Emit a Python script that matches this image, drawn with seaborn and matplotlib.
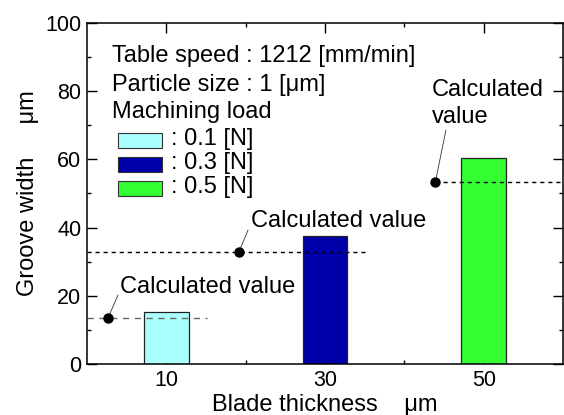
import matplotlib
matplotlib.use('Agg')
import matplotlib.pyplot as plt
from matplotlib.patches import Rectangle
import pandas as pd
import seaborn as sns

# data
blade_thickness = ['10', '30', '50']
groove_width = [15.3, 37.6, 60.3]
calculated = [13.5, 32.9, 53.3]
loads = ['0.1', '0.3', '0.5']
bar_colors = ['#aaffff', '#0000aa', '#33ff33']
table_speed = 1212
particle_size = 1

sns.set_theme(style='ticks')
plt.rcParams['font.family'] = ['Liberation Sans', 'DejaVu Sans']
plt.rcParams['text.color'] = 'black'
plt.rcParams['axes.labelcolor'] = 'black'
FS = 17
TFS = 15.5

df = pd.DataFrame({'thickness': blade_thickness, 'width': groove_width})

fig = plt.figure(figsize=(5.64, 4.15), dpi=100)
ax = fig.add_axes([0.1543, 0.1229, 0.8440, 0.8217])

sns.barplot(data=df, x='thickness', y='width', hue='thickness',
            palette=bar_colors, saturation=1, width=0.283,
            edgecolor='#222222', linewidth=0.9, legend=False, ax=ax)

ax.set_xlim(-0.5, 2.5)
ax.set_ylim(0, 100)
ax.set_yticks(range(0, 101, 20))
ax.set_yticks(range(10, 100, 20), minor=True)
ax.set_xticks([0.5, 1.5], minor=True)
ax.tick_params(which='both', direction='in', top=True, right=True,
               width=1, color='black', labelcolor='black')
ax.tick_params(which='major', length=7.2, labelsize=TFS, pad=4)
ax.tick_params(which='minor', length=3)
for s in ax.spines.values():
    s.set_linewidth(1.1)
    s.set_color('black')

ax.set_xlabel('Blade thickness    μm', fontsize=FS)
ax.set_ylabel('Groove width     μm', fontsize=FS)
ax.xaxis.set_label_coords(0.5, -0.087)
ax.yaxis.set_label_coords(-0.10, 0.5)

# conditions + legend
ax.text(-0.345, 88.6, f'Table speed : {table_speed} [mm/min]', fontsize=FS, va='baseline')
ax.text(-0.345, 80.1, f'Particle size : {particle_size} [μm]', fontsize=FS, va='baseline')
ax.text(-0.345, 72.0, 'Machining load', fontsize=FS, va='baseline')
leg_y = [65.5, 58.5, 51.5]
for yc, lab, col in zip(leg_y, loads, bar_colors):
    ax.add_patch(Rectangle((-0.306, yc - 2.12), 0.28, 4.25, facecolor=col,
                           edgecolor='#333333', linewidth=0.8))
    ax.text(0.028, yc - 1.4, f': {lab} [N]', fontsize=FS, va='baseline')

# calculated values
dot_x = [-0.368, 0.458, 1.695]
line_x = [(-0.5, 0.255), (-0.5, 1.27), (1.695, 2.5)]
line_styles = [((0, (4.5, 4)), '#666666'), ((0, (3, 2.8)), 'black'), ((0, (3, 2.8)), 'black')]
leader_end = [(-0.305, 20.2), (0.515, 39.3), (1.762, 68.6)]
for i, cv in enumerate(calculated):
    ls, c = line_styles[i]
    ax.plot(line_x[i], [cv, cv], linestyle=ls, color=c, lw=1)
    ax.plot([dot_x[i], leader_end[i][0]], [cv, leader_end[i][1]], color='#333333', lw=0.6)
    ax.plot(dot_x[i], cv, 'o', color='black', markersize=6.5)

ax.text(-0.293, 20.7, 'Calculated value', fontsize=FS, va='baseline')
ax.text(0.535, 40.1, 'Calculated value', fontsize=FS, va='baseline')
ax.text(1.674, 78.6, 'Calculated', fontsize=FS, va='baseline')
ax.text(1.674, 70.6, 'value', fontsize=FS, va='baseline')

fig.savefig('out.png', dpi=100)
